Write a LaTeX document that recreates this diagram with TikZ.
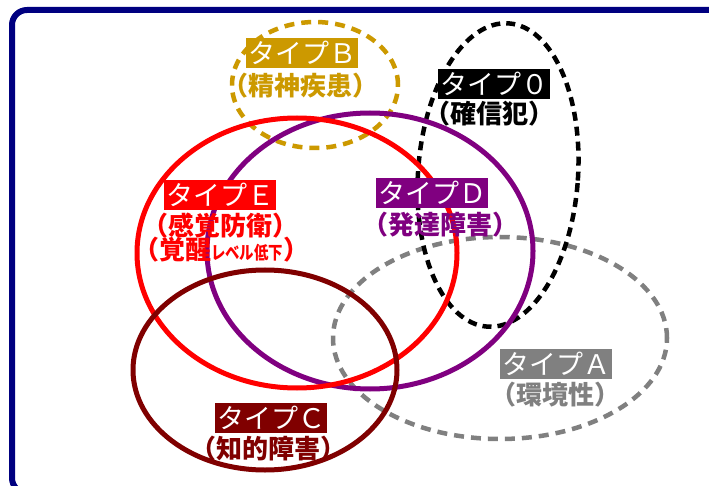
\documentclass[tikz,border=0pt]{standalone}
\usepackage{fontspec}
\newfontfamily\jp{Noto Sans CJK JP}
\usetikzlibrary{shapes.geometric}
\definecolor{cA}{HTML}{808080}
\definecolor{cB}{HTML}{CC9900}
\definecolor{cC}{HTML}{800000}
\definecolor{cD}{HTML}{800080}
\definecolor{cE}{HTML}{FF0000}
\definecolor{cO}{HTML}{000000}
\definecolor{navyframe}{HTML}{000080}
\begin{document}
\begin{tikzpicture}[x=1pt,y=-1pt,
  ring/.style={draw=#1, ellipse, inner sep=0pt, line width=5pt},
  dashring/.style={draw=#1, ellipse, inner sep=0pt, line width=4.5pt, dash pattern=on 10pt off 7pt},
  tag/.style={fill=#1, text=white, font=\jp\fontsize{27}{27}\selectfont, minimum width=112pt, minimum height=30pt, inner sep=0pt},
  sub/.style={text=#1, font=\jp\bfseries\fontsize{26}{26}\selectfont, inner sep=0pt}]
\useasboundingbox (0,0) rectangle (709,486);
\clip (0,0) rectangle (709,486);
\fill[white] (0,0) rectangle (709,486);
\draw[navyframe, line width=6pt, rounded corners=15pt] (12,10) rectangle (740,493);
% rings
\node[dashring=cA, minimum width=334pt, minimum height=202pt] (eA) at (500,338) {};
\node[dashring=cO, line width=4.5pt, dash pattern=on 9pt off 6pt, minimum width=160pt, minimum height=304pt, rotate=-4] (eO) at (498,175) {};
\node[dashring=cB, minimum width=166pt, minimum height=126pt] (eB) at (315,85) {};
\node[ring=cD, minimum width=326pt, minimum height=276pt] (eD) at (370,251) {};
\node[ring=cE, minimum width=320pt, minimum height=270pt] (eE) at (297,253) {};
\node[ring=cC, minimum width=264pt, minimum height=200pt] (eC) at (265,370) {};
% labels
\node[tag=cB] (tB) at (302,53) {タイプＢ};
\node[sub=cB] (sB) at (300,86) {（精神疾患）};
\node[tag=cO] (tO) at (494,84) {タイプ０};
\node[sub=cO] (sO) at (489,114) {（確信犯）};
\node[tag=cE] (tE) at (220,195) {タイプＥ};
\node[sub=cE] (sE) at (220,226) {（感覚防衛）};
\node[sub=cE] (sE2) at (221,250) {（覚醒\scalebox{0.8}[1]{\fontsize{18}{18}\selectfont レベル低下}）};
\node[tag=cD] (tD) at (432,193) {タイプＤ};
\node[sub=cD] (sD) at (440,225) {（発達障害）};
\node[tag=cC] (tC) at (271,418) {タイプＣ};
\node[sub=cC] (sC) at (268,449) {（知的障害）};
\node[tag=cA] (tA) at (556,364) {タイプＡ};
\node[sub=cA] (sA) at (555,395) {（環境性）};
\end{tikzpicture}
\end{document}
